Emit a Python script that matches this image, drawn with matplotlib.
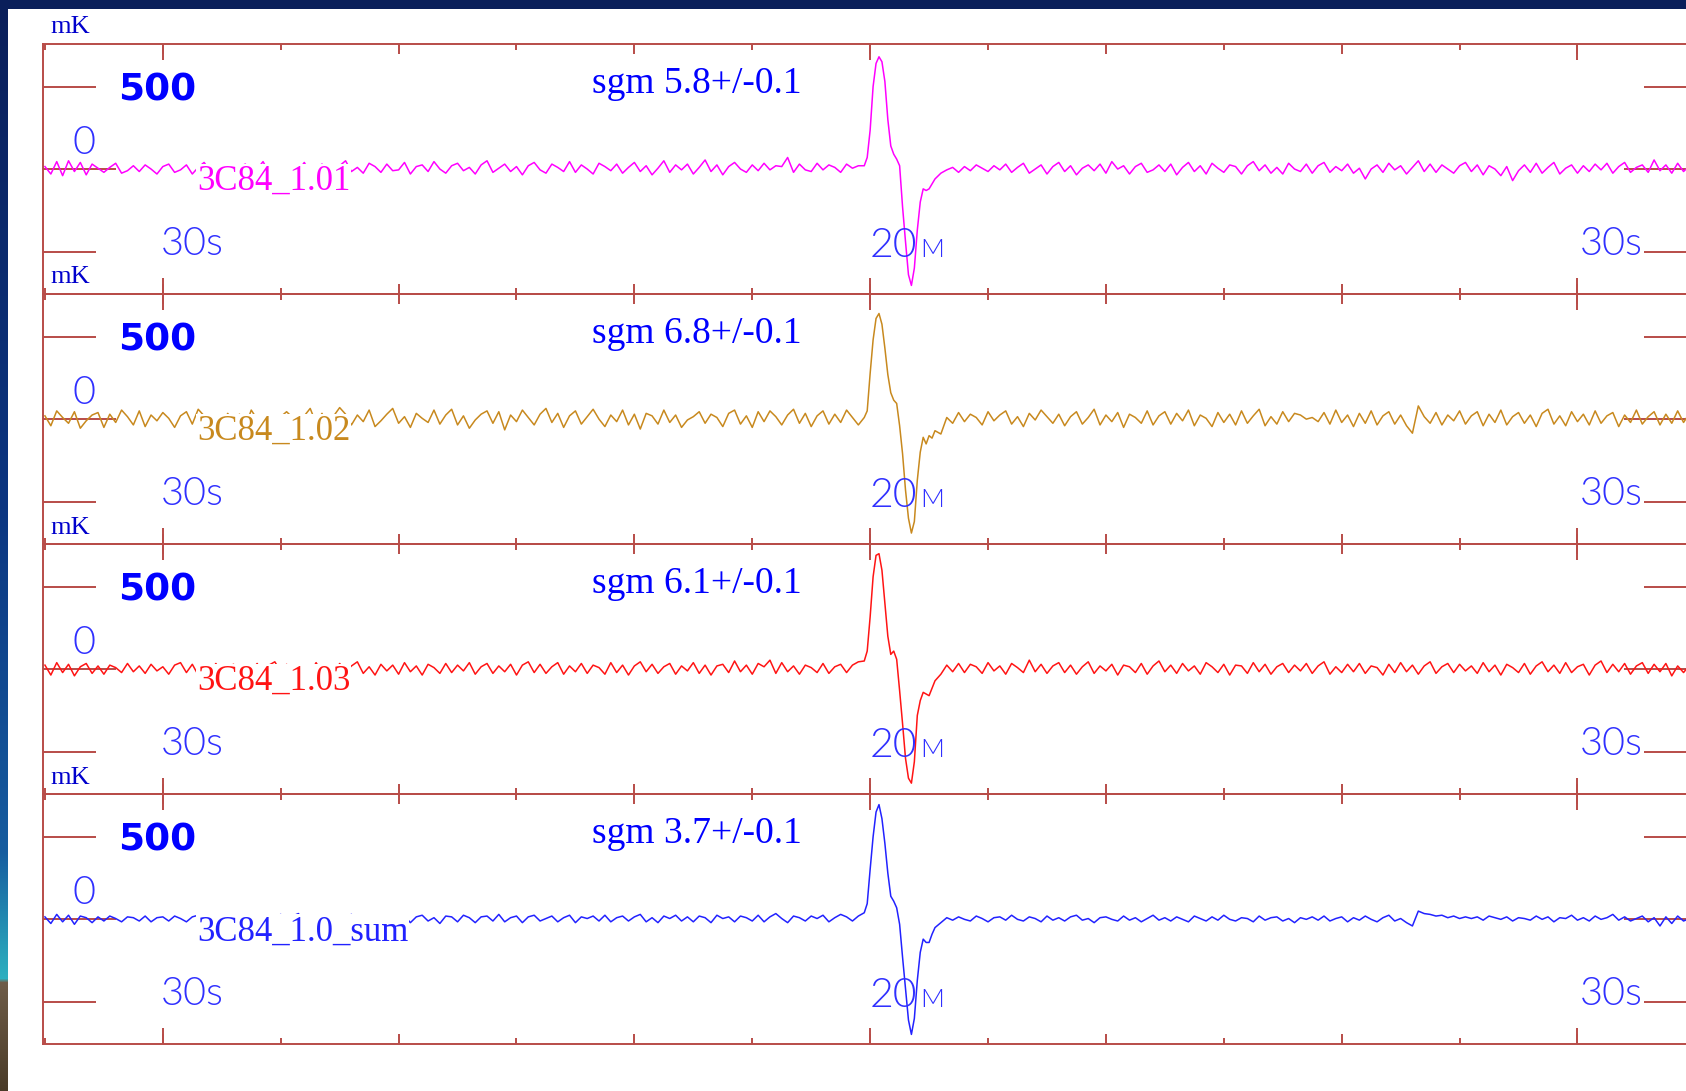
import numpy as np
import matplotlib
matplotlib.use("Agg")
import matplotlib.pyplot as plt
from matplotlib.patches import Rectangle
from matplotlib.ticker import MultipleLocator
from matplotlib.colors import to_rgb

# ---------------- data ----------------
labels = ["3C84_1.01", "3C84_1.02", "3C84_1.03", "3C84_1.0_sum"]
sgm_values = ["5.8", "6.8", "6.1", "3.7"]
sgm_errors = ["0.1", "0.1", "0.1", "0.1"]
scale_label = "500"
zero_label = "0"
half_scan_label = "30s"
center_label = "20"
center_unit = "M"
y_unit = "mK"

# sample grid (seconds)
left_start, right_start, grid_step = -35.0, 3.0, 0.25
spike_t = [-0.25, -0.125, 0.0, 0.125, 0.25, 0.375, 0.5, 0.625, 0.75, 0.875,
           1.0, 1.125, 1.25, 1.375, 1.5, 1.625, 1.75, 1.875, 2.0, 2.125,
           2.25, 2.375, 2.5, 2.625, 2.75]

# panel 1 (mK)
p1_left = [15, -30, 45, -40, 50, -15, 40, -35, 30, 5,
           -20, 10, 35, -25, -10, 20, -15, 25, 0, -30,
           15, 30, -20, -5, 25, -30, 10, 40, -10, -25,
           20, 5, -35, 15, 30, -15, 0, 45, -20, 10,
           -30, 25, 15, -10, 40, -25, 5, 30, -5, -35,
           20, 50, -15, 10, -25, 35, 15, -20, 30, -10,
           -5, 40, -30, 15, 25, -15, 45, 0, -25, 20,
           35, -10, 10, -30, 25, 50, -20, 5, 30, -15,
           15, -35, 20, 40, -5, -25, 30, 10, -15, 45,
           -20, 25, 0, -30, 35, 15, -10, 30, -25, 10,
           40, -15, 20, -35, 5, 50, -20, 25, -5, 30,
           -30, 10, 55, -15, 25, -35, 15, 40, 0, -20,
           25, -10, 35, -5, 20, 15, 70, -20, 30, -5,
           -15, 35, -5, 25, 10, -20, 30, 5, 20]
p1_spike = [20, 70, 236, 500, 640, 680, 650, 530, 300, 140,
            90, 60, 20, -230, -440, -640, -705, -600, -370, -200,
            -120, -130, -120, -90, -60]
p1_right = [-25, -5, 10, -20, 15, -10, 25, 5, -15, 20,
            -5, 30, -20, 10, 35, -25, 0, 25, -30, 15,
            40, -15, 20, -35, 5, 25, -10, 30, -25, 45,
            0, 20, -30, 15, 35, -20, -5, 25, -15, 30,
            -35, 10, 40, -15, 20, -30, 35, 5, -20, 25,
            15, -30, 20, 45, -10, 25, -25, 10, -30, 35,
            0, -15, 30, -25, 20, 40, -20, 15, -10, 30,
            -25, 5, -60, 0, 25, -20, 35, -5, 20, -30,
            10, 50, -15, 30, -20, 25, 0, -25, 20, 40,
            -15, 25, -35, 20, 0, -40, 15, -70, -10, 25,
            -20, 35, -25, 10, 40, -30, 5, 25, -25, 20,
            -15, 30, -5, 35, -25, 15, 40, -20, 10, 25,
            -20, 55, -10, 25, -25, 35, -15, 20, 30]

# panel 2
p2_left = [20, -40, 50, 10, -25, 45, -55, -10, 25, 40,
           -50, 30, -20, 55, 15, -35, 50, -45, 25, -10,
           40, 5, -50, 20, 45, -30, 60, 20, -25, 15,
           -55, 35, -15, 30, -45, 55, 0, -20, 25, -50,
           15, 45, 10, -30, 20, 65, -25, 35, -55, 20,
           70, 30, -35, 25, -15, 55, -45, -10, 30, 65,
           -25, 15, -50, 35, 5, -20, 55, -30, 25, 60,
           -35, 20, -55, -5, 30, 50, -25, 45, -65, 25,
           -15, 55, 10, -35, 30, 65, -20, 35, -50, 20,
           50, -30, 15, 60, 0, -45, 25, -15, 55, -35,
           30, -60, 35, 20, -30, 55, -20, 25, -50, -5,
           15, 45, -25, 30, 10, -45, 35, 55, -30, 20,
           -50, 45, -15, 50, 15, -35, 25, 60, -25, 35,
           -45, 20, 50, -30, 30, -20, 55, 10, -35]
p2_spike = [10, 50, 277, 480, 610, 640, 575, 430, 270, 160,
            115, 95, -40, -210, -430, -600, -690, -620, -370, -200,
            -110, -150, -100, -115, -70]
p2_right = [-90, 10, -25, 40, -15, 30, 10, -35, 45, -10,
            25, 50, -30, 15, -45, 35, -5, 55, 15, -25,
            30, -40, 15, 45, -30, 10, 60, -35, 25, -15,
            40, -50, 30, 10, -25, 50, -35, 20, 45, -30,
            35, -10, 55, -40, 25, 5, -45, 40, -20, 30,
            -35, 50, -25, 20, 60, -40, 15, -30, 45, -15,
            35, 25, 0, 10, -15, 40, -30, 55, -20, 25,
            -45, 35, -25, 50, -35, 20, 45, -30, 25, -40,
            -85, 80, 15, -25, 40, -35, 25, -10, 50, -30,
            20, 45, -40, 30, -20, 55, -35, 15, 40, -25,
            25, -45, 35, 60, -30, 20, -40, 45, -15, 30,
            -35, 50, -25, 20, 40, -45, 25, -20, 55, -30,
            15, 45, -35, 30, -25, 50, -20, 35, 60]

# panel 3
p3_left = [25, -35, 40, -20, 30, -40, 15, 35, -25, 20,
           -30, 25, 10, -20, 35, -15, 20, -25, 30, -10,
           15, -30, 25, 40, -20, 30, -35, 20, -15, 35,
           -25, 15, 30, -35, 20, -10, 35, -30, 25, 45,
           -15, 30, -35, 20, 10, -25, 40, -20, 25, -30,
           35, -15, 20, 45, -25, 15, -35, 30, -10, 25,
           -30, 40, -15, 20, -35, 30, 10, -25, 35, -20,
           25, -10, 40, -30, 15, 35, -25, 20, -15, 30,
           -35, 25, 45, -20, 30, -25, 15, 40, -30, 20,
           -15, 35, -25, 25, 10, -30, 40, -20, 25, -35,
           20, 45, -15, 30, -25, 15, 35, -30, 20, -10,
           40, -25, 25, -35, 20, 30, -20, 50, -15, 25,
           -30, 35, 15, 55, -25, 40, -15, 20, -30, 25,
           10, -20, 35, -25, 15, 30, -20, 25, 45]
p3_spike = [50, 110, 318, 560, 690, 700, 600, 400, 200, 90,
            110, 60, -130, -330, -540, -660, -690, -560, -280, -190,
            -140, -150, -160, -115, -70]
p3_right = [-30, 25, -15, 35, -20, 30, 15, -25, 40, -10,
            20, -30, 35, 10, -20, 55, -15, 30, -25, 20,
            40, -20, 25, -30, 15, 45, -25, 20, -10, 30,
            -35, 25, 15, -20, 35, -30, 20, 50, -15, 25,
            -25, 35, -10, 20, -30, 40, 15, -20, 30, -35,
            25, 20, -25, 40, -15, 30, -30, 15, 35, -20,
            25, -10, 35, -25, 20, 45, -30, 15, -20, 30,
            -15, 35, -25, 20, 10, -35, 30, -20, 40, -15,
            25, -30, 20, 45, -25, 15, 35, -20, 30, -10,
            20, -25, 40, -15, 25, -35, 30, 10, -20, 35,
            -30, 20, 45, -15, 25, -25, 40, -20, 15, 30,
            -35, 25, 50, -20, 30, -15, 35, -30, 20, 40,
            -25, 30, -15, 35, -40, 20, -20, 25, 35]

# panel 4 (sum)
p4_left = [15, -25, 30, -15, 25, -30, 20, 10, -20, 15,
           -10, 20, 5, -15, 15, 10, -10, 20, -15, 10,
           15, -10, 20, 5, -15, 15, 25, -10, 10, -20,
           15, 5, 20, -15, 10, 25, -10, 15, -20, 10,
           30, -15, 20, 35, -10, 15, -20, 25, 5, 20,
           -15, 15, 30, -10, 20, -25, 15, 10, -15, 25,
           5, 20, -20, 15, 25, -10, 10, -25, 20, 15,
           -15, 25, 10, -20, 15, 20, -10, 30, -15, 10,
           20, -20, 15, 25, -10, 5, 20, -15, 10, 25,
           -20, 15, 5, 20, -10, 25, -15, 10, 20, -10,
           15, 30, -15, 10, -20, 20, 5, 25, -10, 15,
           -15, 20, 10, -20, 25, 5, 15, -15, 20, 10,
           -10, 25, -15, 15, 35, 5, -20, 20, 10, -10,
           20, 5, 25, -15, 10, 30, 15, -10, 20]
p4_spike = [40, 95, 303, 500, 650, 695, 610, 460, 280, 140,
            110, 70, -30, -230, -420, -610, -697, -600, -370, -200,
            -120, -140, -140, -90, -50]
p4_right = [-20, 10, -5, 15, 0, -10, 20, 5, -15, 10,
            15, -5, 25, 0, -10, 15, 5, -15, 20, -5,
            10, -10, 15, 25, -5, 5, -20, 10, 15, 0,
            -10, 20, -5, 10, -15, 5, 25, -5, 10, -10,
            15, 0, -15, 20, 5, -10, 15, -5, 25, 0,
            -10, 10, 5, -15, 20, -5, 10, 15, -10, 5,
            -20, 10, 0, 15, -5, 20, -10, 5, 15, -15,
            10, -5, 20, 0, -15, 10, 25, -10, 5, -20,
            -40, 50, 35, 30, 20, 25, 10, 20, 5, 15,
            5, 15, -5, 20, 10, 0, 15, -10, 10, 5,
            -5, 20, 0, 15, -15, 10, 5, 25, -5, 10,
            -10, 20, 0, 10, 30, -5, 15, -10, 5, 20,
            -15, 10, -40, 15, -25, 20, -10, 5, 15]

panel_left = [p1_left, p2_left, p3_left, p4_left]
panel_spike = [p1_spike, p2_spike, p3_spike, p4_spike]
panel_right = [p1_right, p2_right, p3_right, p4_right]

# ---------------- style ----------------
trace_colors = ["#ff00ff", "#c8891e", "#ff1414", "#2222ff"]
frame_color = "#b84c48"
thin_color = "#3030ff"
W, H = 1686, 1091
DPI = 100

fig = plt.figure(figsize=(W / DPI, H / DPI), dpi=DPI, facecolor="white")

# slide background strips (top and left)
fig.patches.append(Rectangle((0, 1 - 9 / H), 1, 9 / H, transform=fig.transFigure,
                             facecolor="#0a1f5a", edgecolor="none", zorder=0))
stops = [(0, "#0a1f5a"), (500, "#0b3580"), (850, "#165c9f"), (960, "#2aa5bb"),
         (978, "#2db0c0"), (982, "#6e5c48"), (1091, "#4a3b28")]
ys = np.arange(H)
grad = np.zeros((H, 1, 3))
for ch in range(3):
    grad[:, 0, ch] = np.interp(ys, [s[0] for s in stops], [to_rgb(s[1])[ch] for s in stops])
bg_ax = fig.add_axes([0, 0, 8 / W, 1])
bg_ax.imshow(grad, aspect="auto", extent=(0, 1, 0, 1), origin="upper")
bg_ax.set_axis_off()

x_left_px, x_right_px = 43.3, 1697.0
top0, panel_h = 44.0, 250.1
thin_font = ["Lato", "DejaVu Sans"]
serif_font = ["Liberation Serif", "DejaVu Serif"]

for k in range(4):
    top_px = top0 + panel_h * k
    ax = fig.add_axes([x_left_px / W, 1 - (top_px + panel_h) / H,
                       (x_right_px - x_left_px) / W, panel_h / H])
    ax.set_facecolor("none")
    ax.set_xlim(-35.07, 35.07)
    ax.set_ylim(-757.5, 757.5)

    lt = left_start + grid_step * np.arange(len(panel_left[k]))
    rt = right_start + grid_step * np.arange(len(panel_right[k]))
    t = np.concatenate([lt, spike_t, rt])
    v = np.concatenate([panel_left[k], panel_spike[k], panel_right[k]])
    ax.plot(t, v, color=trace_colors[k], lw=1.1, zorder=2)

    for sp in ax.spines.values():
        sp.set_color(frame_color)
        sp.set_linewidth(1.4)

    ax.xaxis.set_major_locator(MultipleLocator(10))
    ax.xaxis.set_minor_locator(MultipleLocator(5))
    ax.tick_params(axis="x", which="major", direction="in", length=7.2, width=1.4,
                   color=frame_color, top=True, bottom=True,
                   labelbottom=False, labeltop=False)
    ax.tick_params(axis="x", which="minor", direction="in", length=4.3, width=1.4,
                   color=frame_color, top=True, bottom=True)
    ax.set_yticks([-500, 500])
    ax.set_yticks([0], minor=True)
    ax.tick_params(axis="y", which="major", direction="in", length=38, width=1.4,
                   color=frame_color, left=True, right=True,
                   labelleft=False, labelright=False)
    ax.tick_params(axis="y", which="minor", direction="in", length=52.6, width=1.4,
                   color=frame_color, left=True, right=True,
                   labelleft=False, labelright=False)
    for loc in ["top", "bottom"]:
        sec = ax.secondary_xaxis(loc)
        sec.set_xticks([-30, 0, 30])
        sec.tick_params(direction="in", length=11.5, width=1.4, color=frame_color,
                        labelbottom=False, labeltop=False)
        for sp in sec.spines.values():
            sp.set_visible(False)

    # texts
    ax.text(-34.75, 822, y_unit, family=serif_font, fontsize=19, color="#0000cc",
            ha="left", va="baseline", clip_on=False)
    ax.text(-31.9, 418, scale_label, family="DejaVu Sans", weight="bold", fontsize=27,
            color="#0000ff", ha="left", va="baseline")
    ax.text(-33.36, 91, zero_label, family=thin_font, weight=300, fontsize=28.5,
            color=thin_color, ha="center", va="baseline")
    ax.text(-30.07, -521, half_scan_label, family=thin_font, weight=300, fontsize=28.5,
            color=thin_color, ha="left", va="baseline")
    ax.text(30.1, -521, half_scan_label, family=thin_font, weight=300, fontsize=28.5,
            color=thin_color, ha="left", va="baseline")
    ax.text(0.0, -533, center_label, family=thin_font, weight=300, fontsize=29.5,
            color=thin_color, ha="left", va="baseline")
    ax.text(2.12, -533, center_unit, family=thin_font, weight=300, fontsize=19,
            color=thin_color, ha="left", va="baseline")
    ax.text(-11.79, 462, f"sgm {sgm_values[k]}+/-{sgm_errors[k]}", family=serif_font,
            fontsize=27, color="#0000ff", ha="left", va="baseline")
    ax.text(-28.55, -127, labels[k], family=serif_font, fontsize=25,
            color=trace_colors[k], ha="left", va="baseline", zorder=3,
            bbox=dict(boxstyle="square,pad=0.03", facecolor="white", edgecolor="none"))

fig.savefig("out.png", dpi=DPI, facecolor="white")
